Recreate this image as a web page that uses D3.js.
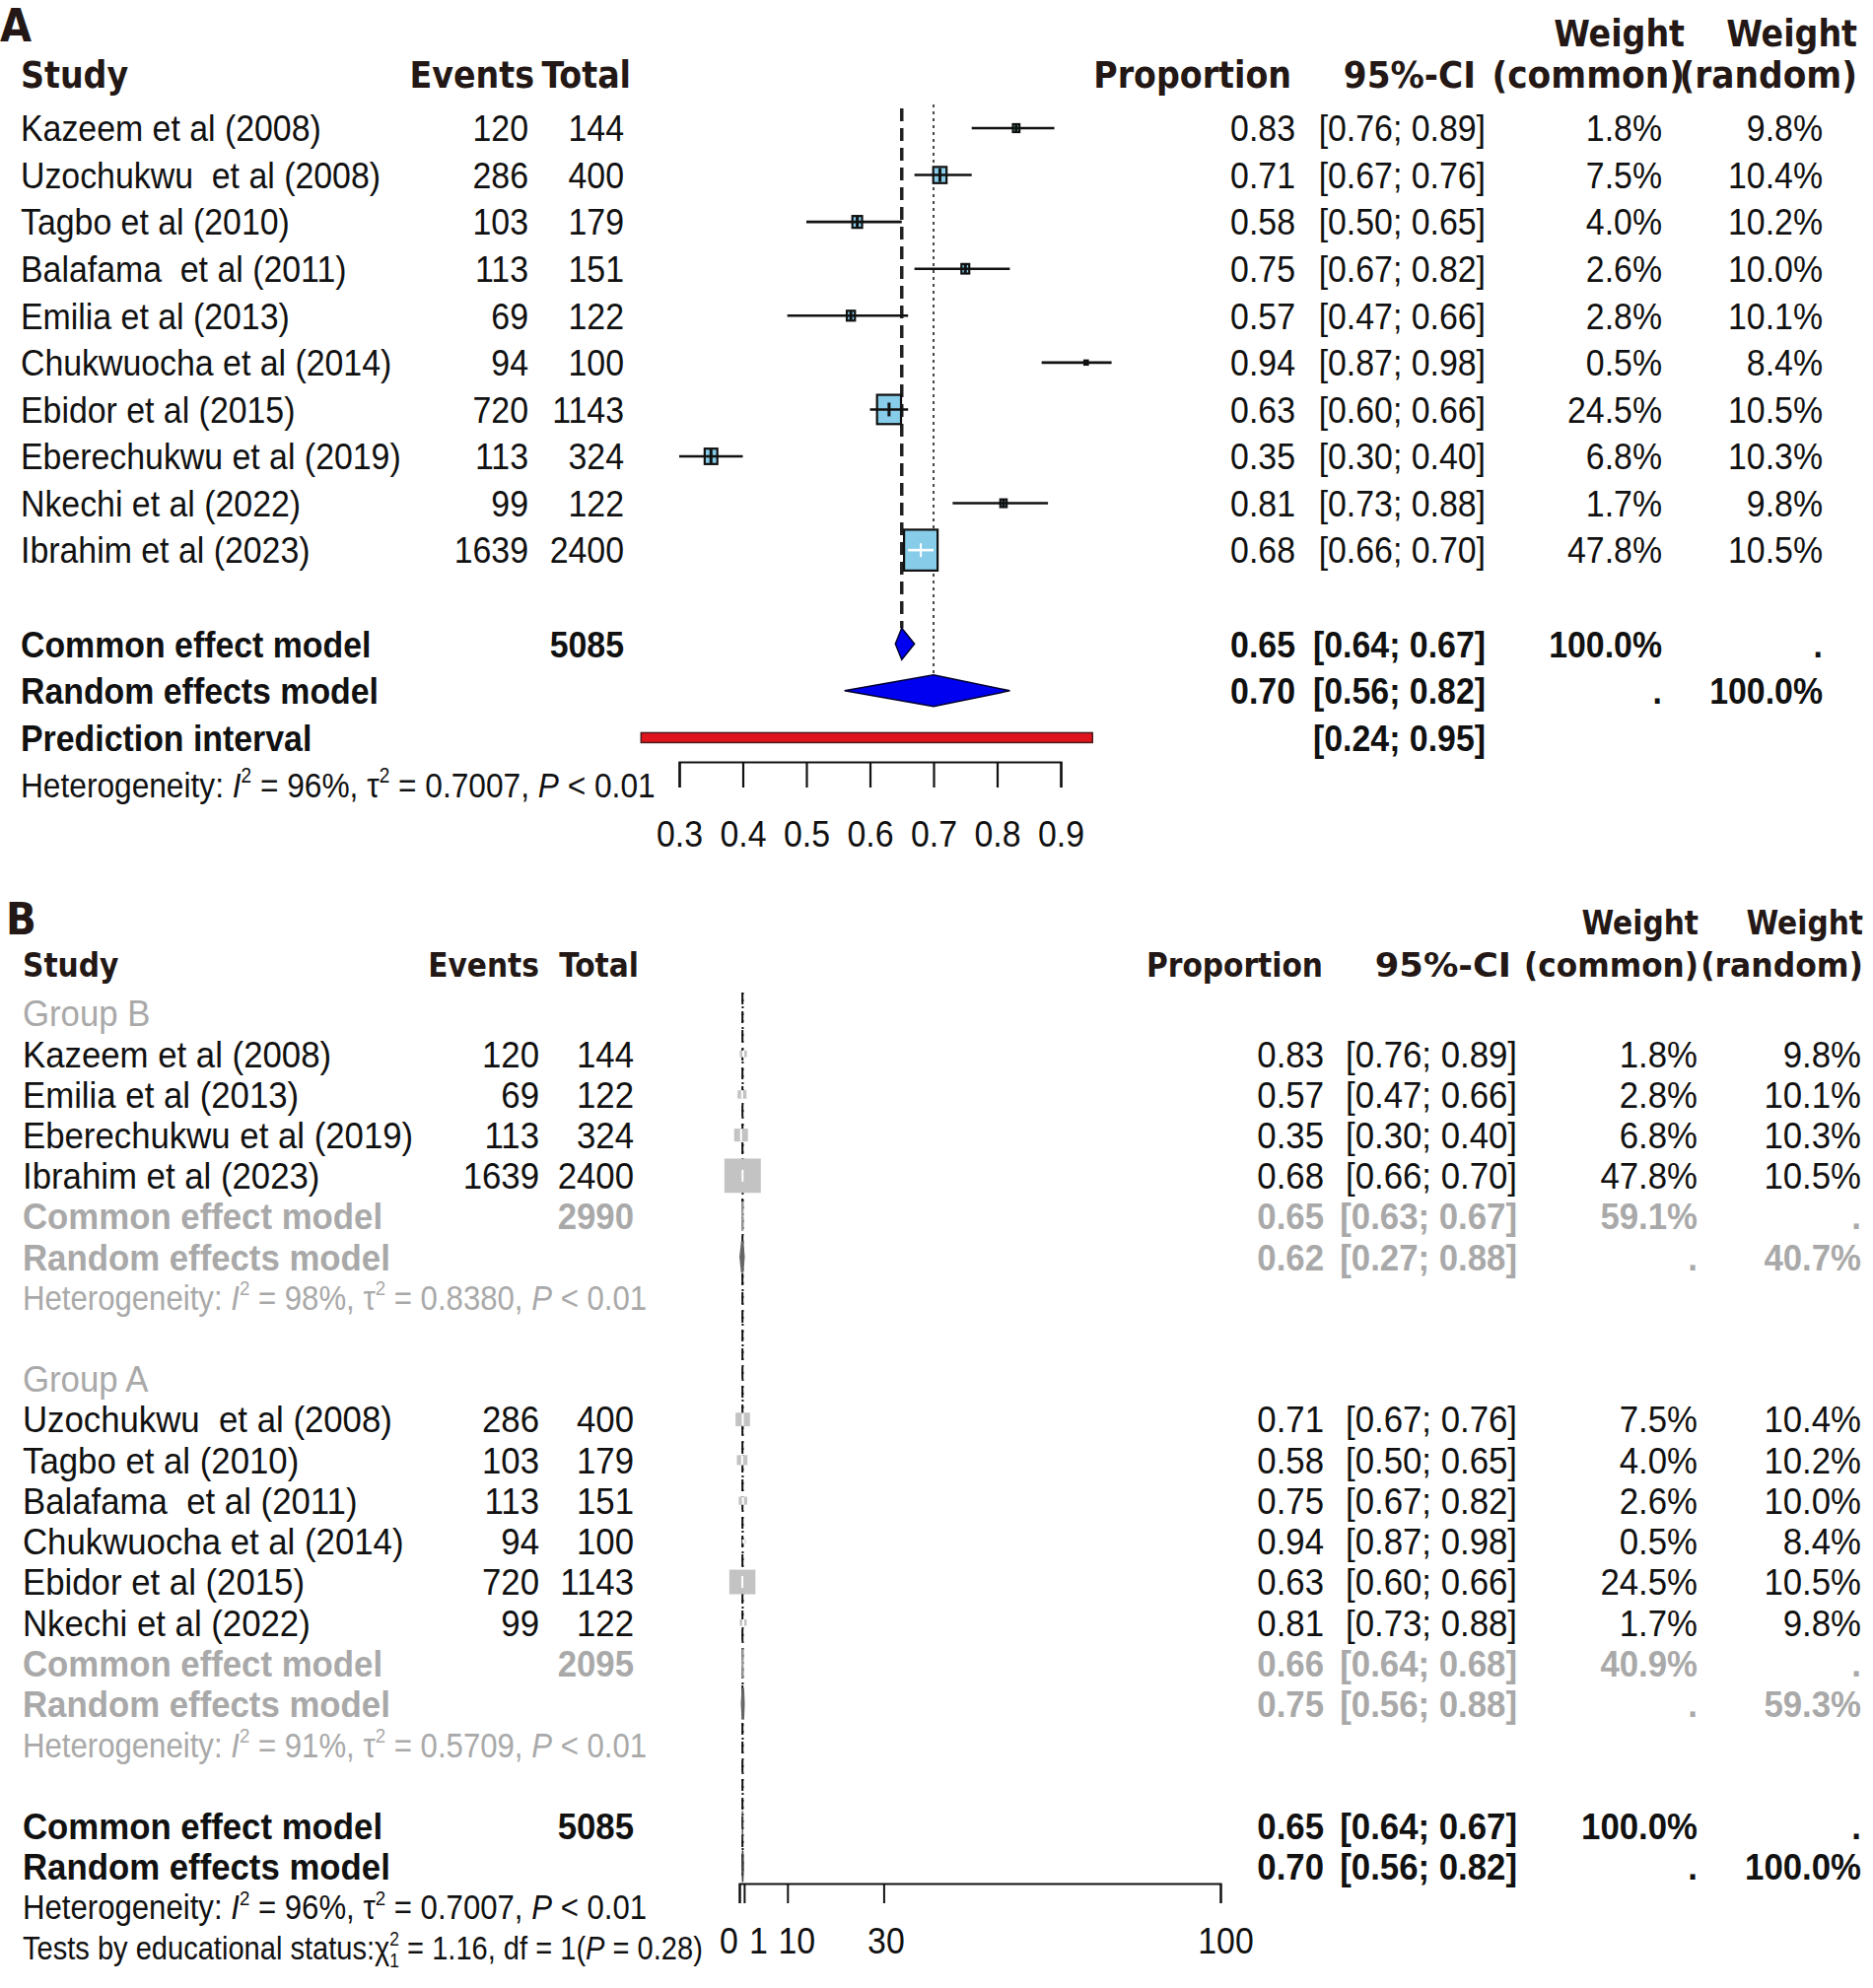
<!DOCTYPE html>
<html>
<head>
<meta charset="utf-8">
<script src="https://cdn.jsdelivr.net/npm/d3@7"></script>
<style>
  html, body { margin: 0; padding: 0; background: #fff; }
  svg { display: block; }
  text { white-space: pre; }
</style>
</head>
<body>
<svg id="chart" width="1900" height="2017"></svg>
<script>
// ---------------- DATA ----------------
const studies = ["Kazeem et al (2008)", "Uzochukwu  et al (2008)", "Tagbo et al (2010)", "Balafama  et al (2011)",
  "Emilia et al (2013)", "Chukwuocha et al (2014)", "Ebidor et al (2015)", "Eberechukwu et al (2019)",
  "Nkechi et al (2022)", "Ibrahim et al (2023)"];
const events = [120, 286, 103, 113, 69, 94, 720, 113, 99, 1639];
const totals = [144, 400, 179, 151, 122, 100, 1143, 324, 122, 2400];
const proportion = [0.83, 0.71, 0.58, 0.75, 0.57, 0.94, 0.63, 0.35, 0.81, 0.68];
const ciLower = [0.76, 0.67, 0.50, 0.67, 0.47, 0.87, 0.60, 0.30, 0.73, 0.66];
const ciUpper = [0.89, 0.76, 0.65, 0.82, 0.66, 0.98, 0.66, 0.40, 0.88, 0.70];
const weightCommon = [1.8, 7.5, 4.0, 2.6, 2.8, 0.5, 24.5, 6.8, 1.7, 47.8];
const weightRandom = [9.8, 10.4, 10.2, 10.0, 10.1, 8.4, 10.5, 10.3, 9.8, 10.5];
const studyGroup = ["B", "A", "A", "A", "B", "A", "A", "B", "A", "B"];

const overallTotal = 5085;
const overallCommon = [0.65, 0.64, 0.67];
const overallRandom = [0.70, 0.56, 0.82];
const predictionInterval = [0.24, 0.95];
const overallHet = ["96%", "0.7007", "< 0.01"];

const groupKeys = ["B", "A"];
const groupLabels = ["Group B", "Group A"];
const groupTotals = [2990, 2095];
const groupCommon = [[0.65, 0.63, 0.67], [0.66, 0.64, 0.68]];
const groupRandom = [[0.62, 0.27, 0.88], [0.75, 0.56, 0.88]];
const groupWeightCommon = [59.1, 40.9];
const groupWeightRandom = [40.7, 59.3];
const groupHet = [["98%", "0.8380", "< 0.01"], ["91%", "0.5709", "< 0.01"]];
const subgroupTest = ["1.16", "1", "0.28"]; // chi2, df, p

const ticksA = [0.3, 0.4, 0.5, 0.6, 0.7, 0.8, 0.9];
const ticksB = [0, 1, 10, 30, 100];
const tickLabelsB = ["0", "1", "10", "30", "100"];

// ---------------- HELPERS ----------------
const svg = d3.select("#chart");
const fSans = "'Liberation Sans', Arial, Helvetica, sans-serif";
const fHead = "'DejaVu Sans Condensed', 'DejaVu Sans', sans-serif";
const HEAD = "#231815", INK = "#111", GREY = "#a9a9a9";

function T(g, x, yc, str, o = {}) {
  const size = o.size || 37, sx = o.sx || 0.915;
  const t = g.append("text")
    .attr("transform", `translate(${x},${yc + size * 0.36}) scale(${sx},1)`)
    .attr("text-anchor", o.anchor || "start")
    .attr("font-family", o.family || fSans)
    .attr("font-size", size)
    .attr("font-weight", o.weight || "normal")
    .attr("fill", o.fill || INK)
    .text(str);
  if (o.family === fHead) t.style("font-stretch", "condensed");
  return t;
}
function H(g, x, yc, str, o = {}) {
  return T(g, x, yc, str, Object.assign({family: fHead, weight: "bold", fill: HEAD, sx: 1}, o));
}
// rich text: parts = [[text, style]] style: i | sup | sub | subAfterSup
function R(g, x, yc, parts, o = {}) {
  const size = o.size || 36, sx = o.sx || 0.88;
  const t = g.append("text")
    .attr("transform", `translate(${x},${yc + size * 0.36}) scale(${sx},1)`)
    .attr("font-family", fSans).attr("font-size", size)
    .attr("fill", o.fill || INK);
  let shift = 0;
  parts.forEach(([s, st]) => {
    let target = 0, fs = size, dx = 0;
    if (st === "sup") { target = -size * 0.42; fs = size * 0.6; }
    if (st === "sub") { target = size * 0.22; fs = size * 0.6; }
    if (st === "subAfterSup") { target = size * 0.22; fs = size * 0.6; dx = -size * 0.6 * 0.556; }
    const ts = t.append("tspan").attr("dy", target - shift).attr("font-size", fs).text(s);
    if (dx) ts.attr("dx", dx);
    if (st === "i") ts.attr("font-style", "italic");
    shift = target;
  });
  return t;
}
function hetParts(h) {
  return [["Heterogeneity: "], ["I", "i"], ["2", "sup"], [" = " + h[0] + ", "], ["\u03c4"], ["2", "sup"],
    [" = " + h[1] + ", "], ["P", "i"], [" " + h[2]]];
}
const f2 = d => d.toFixed(2);
const ciStr = (l, u) => `[${f2(l)}; ${f2(u)}]`;
const pct = d => d.toFixed(1) + "%";

// ================= PANEL A =================
const gA = svg.append("g");
const xA = d3.scaleLinear().domain([0.3, 0.9]).range([689, 1076]);
const yA = d3.scaleLinear().domain([0, 14]).range([130, 796]);
const colA = {study: 21, events: 536, total: 633, prop: 1314, ci: 1507, wc: 1686, wr: 1849};

H(gA, 0, 25, "A", {size: 46});
H(gA, 1709, 34, "Weight", {anchor: "end"});
H(gA, 1884, 34, "Weight", {anchor: "end"});
H(gA, colA.study, 76, "Study");
H(gA, 542, 76, "Events", {anchor: "end"});
H(gA, 640, 76, "Total", {anchor: "end"});
H(gA, 1310, 76, "Proportion", {anchor: "end"});
H(gA, 1497, 76, "95%-CI", {anchor: "end", sx: 1.03});
H(gA, 1709, 76, "(common)", {anchor: "end", sx: 1.035});
H(gA, 1884, 76, "(random)", {anchor: "end", sx: 1.035});

// reference lines
gA.append("line").attr("x1", xA(overallCommon[0])).attr("x2", xA(overallCommon[0]))
  .attr("y1", yA(0) - 20).attr("y2", yA(11) - 16)
  .attr("stroke", "#222").attr("stroke-width", 3.5).attr("stroke-dasharray", "13,7");
gA.append("line").attr("x1", xA(overallRandom[0])).attr("x2", xA(overallRandom[0]))
  .attr("y1", yA(0) - 24).attr("y2", yA(12) - 16)
  .attr("stroke", "#333").attr("stroke-width", 1.8).attr("stroke-dasharray", "3,4");

const bwA = d3.scaleSqrt().domain([0, 47.8]).range([0, 34]);
studies.forEach((s, i) => {
  const y = yA(i);
  T(gA, colA.study, y, s);
  T(gA, colA.events, y, String(events[i]), {anchor: "end"});
  T(gA, colA.total, y, String(totals[i]), {anchor: "end"});
  T(gA, colA.prop, y, f2(proportion[i]), {anchor: "end"});
  T(gA, colA.ci, y, ciStr(ciLower[i], ciUpper[i]), {anchor: "end"});
  T(gA, colA.wc, y, pct(weightCommon[i]), {anchor: "end"});
  T(gA, colA.wr, y, pct(weightRandom[i]), {anchor: "end"});

  const w = bwA(weightCommon[i]), h = w * 1.22, cx = xA(proportion[i]);
  const inside = xA(ciLower[i]) >= cx - w / 2 && xA(ciUpper[i]) <= cx + w / 2;
  gA.append("rect").attr("x", cx - w / 2).attr("y", y - h / 2).attr("width", w).attr("height", h)
    .attr("fill", "#87cdea").attr("stroke", "#111").attr("stroke-width", 2.2);
  gA.append("line").attr("x1", xA(ciLower[i])).attr("x2", xA(ciUpper[i])).attr("y1", y).attr("y2", y)
    .attr("stroke", inside ? "#fff" : "#111").attr("stroke-width", 2.6);
  const th = Math.min(h, 14);
  gA.append("line").attr("x1", cx).attr("x2", cx).attr("y1", y - th / 2).attr("y2", y + th / 2)
    .attr("stroke", inside ? "#fff" : "#111").attr("stroke-width", inside ? 2 : 3);
});

function diamond(g, x, y, est, lo, hi, hh, fill, stroke, sw) {
  g.append("polygon")
    .attr("points", [[x(lo), y], [x(est), y - hh], [x(hi), y], [x(est), y + hh]].map(p => p.join(",")).join(" "))
    .attr("fill", fill).attr("stroke", stroke).attr("stroke-width", sw);
}
// summary rows A
{
  let y = yA(11);
  T(gA, colA.study, y, "Common effect model", {weight: "bold"});
  T(gA, colA.total, y, String(overallTotal), {anchor: "end", weight: "bold"});
  T(gA, colA.prop, y, f2(overallCommon[0]), {anchor: "end", weight: "bold"});
  T(gA, colA.ci, y, ciStr(overallCommon[1], overallCommon[2]), {anchor: "end", weight: "bold"});
  T(gA, colA.wc, y, "100.0%", {anchor: "end", weight: "bold"});
  T(gA, colA.wr, y, ".", {anchor: "end", weight: "bold"});
  diamond(gA, xA, y, ...overallCommon, 16, "#0000f0", "#000030", 1.5);

  y = yA(12);
  T(gA, colA.study, y, "Random effects model", {weight: "bold"});
  T(gA, colA.prop, y, f2(overallRandom[0]), {anchor: "end", weight: "bold"});
  T(gA, colA.ci, y, ciStr(overallRandom[1], overallRandom[2]), {anchor: "end", weight: "bold"});
  T(gA, colA.wc, y, ".", {anchor: "end", weight: "bold"});
  T(gA, colA.wr, y, "100.0%", {anchor: "end", weight: "bold"});
  diamond(gA, xA, y, ...overallRandom, 16, "#0000f0", "#000030", 1.5);

  y = yA(13);
  T(gA, colA.study, y, "Prediction interval", {weight: "bold"});
  T(gA, colA.ci, y, ciStr(predictionInterval[0], predictionInterval[1]), {anchor: "end", weight: "bold"});
  gA.append("rect").attr("x", xA(predictionInterval[0])).attr("y", y - 5)
    .attr("width", xA(predictionInterval[1]) - xA(predictionInterval[0])).attr("height", 10)
    .attr("fill", "#e0141c").attr("stroke", "#4a1a1a").attr("stroke-width", 1.5);

  R(gA, colA.study, yA(14), hetParts(overallHet), {size: 36, sx: 0.88});
}
// axis A
{
  const ay = 773;
  const ax = gA.append("g").attr("transform", `translate(0,${ay})`)
    .call(d3.axisBottom(xA).tickValues(ticksA).tickSize(26).tickSizeOuter(26).tickFormat(d3.format(".1f")));
  ax.selectAll("path, line").attr("stroke", "#111").attr("stroke-width", 2.2);
  ax.selectAll("text").attr("font-family", fSans).attr("font-size", 37).attr("fill", INK)
    .attr("dy", null).attr("y", 73 + 13).attr("transform", "scale(0.915,1)");
}

// ================= PANEL B =================
const gB = svg.append("g");
const xB = d3.scaleLinear().domain([0, 100]).range([750, 1238]);
const yB = d3.scaleLinear().domain([0, 23]).range([1028, 1976]);
const colB = {study: 23, events: 547, total: 643, prop: 1343, ci: 1539, wc: 1722, wr: 1888};
const sxB = 0.94;

H(gB, 6, 932, "B", {size: 45});
H(gB, 1723, 936, "Weight", {anchor: "end", size: 33});
H(gB, 1890, 936, "Weight", {anchor: "end", size: 33});
H(gB, colB.study, 979, "Study", {size: 33});
H(gB, 547, 979, "Events", {anchor: "end", size: 33});
H(gB, 648, 979, "Total", {anchor: "end", size: 33});
H(gB, 1342, 979, "Proportion", {anchor: "end", size: 33});
H(gB, 1533, 979, "95%-CI", {anchor: "end", size: 33, sx: 1.19});
H(gB, 1723, 979, "(common)", {anchor: "end", size: 33, sx: 1.05});
H(gB, 1890, 979, "(random)", {anchor: "end", size: 33, sx: 1.06});

// reference lines (common dashed + random dotted overlap -> dash-dot look)
const axisYB = 1911;
gB.append("line").attr("x1", xB(overallCommon[0])).attr("x2", xB(overallCommon[0]))
  .attr("y1", yB(0) - 21).attr("y2", axisYB - 8)
  .attr("stroke", "#111").attr("stroke-width", 2).attr("stroke-dasharray", "12,7");
gB.append("line").attr("x1", xB(overallRandom[0])).attr("x2", xB(overallRandom[0]))
  .attr("y1", yB(0) - 21).attr("y2", axisYB - 8)
  .attr("stroke", "#111").attr("stroke-width", 2).attr("stroke-dasharray", "2,5").attr("stroke-dashoffset", -14);

const bwB = d3.scaleSqrt().domain([0, 47.8]).range([0, 37]);
let row = 0;
groupKeys.forEach((gk, gi) => {
  T(gB, colB.study, yB(row), groupLabels[gi], {fill: GREY, sx: sxB});
  row++;
  studies.forEach((s, i) => {
    if (studyGroup[i] !== gk) return;
    const y = yB(row);
    T(gB, colB.study, y, s, {sx: sxB});
    T(gB, colB.events, y, String(events[i]), {anchor: "end", sx: sxB});
    T(gB, colB.total, y, String(totals[i]), {anchor: "end", sx: sxB});
    T(gB, colB.prop, y, f2(proportion[i]), {anchor: "end", sx: sxB});
    T(gB, colB.ci, y, ciStr(ciLower[i], ciUpper[i]), {anchor: "end", sx: sxB});
    T(gB, colB.wc, y, pct(weightCommon[i]), {anchor: "end", sx: sxB});
    T(gB, colB.wr, y, pct(weightRandom[i]), {anchor: "end", sx: sxB});
    const w = bwB(weightCommon[i]), h = w * 0.94, cx = xB(proportion[i]);
    gB.append("rect").attr("x", cx - w / 2).attr("y", y - h / 2).attr("width", w).attr("height", h)
      .attr("fill", "#c3c3c3");
    gB.append("line").attr("x1", xB(ciLower[i])).attr("x2", xB(ciUpper[i])).attr("y1", y).attr("y2", y)
      .attr("stroke", "#fff").attr("stroke-width", 2);
    const th = Math.min(h, 12);
    gB.append("line").attr("x1", cx).attr("x2", cx).attr("y1", y - th / 2).attr("y2", y + th / 2)
      .attr("stroke", "#fff").attr("stroke-width", 2);
    row++;
  });
  let y = yB(row);
  T(gB, colB.study, y, "Common effect model", {weight: "bold", fill: GREY, sx: sxB});
  T(gB, colB.total, y, String(groupTotals[gi]), {anchor: "end", weight: "bold", fill: GREY, sx: sxB});
  T(gB, colB.prop, y, f2(groupCommon[gi][0]), {anchor: "end", weight: "bold", fill: GREY, sx: sxB});
  T(gB, colB.ci, y, ciStr(groupCommon[gi][1], groupCommon[gi][2]), {anchor: "end", weight: "bold", fill: GREY, sx: sxB});
  T(gB, colB.wc, y, pct(groupWeightCommon[gi]), {anchor: "end", weight: "bold", fill: GREY, sx: sxB});
  T(gB, colB.wr, y, ".", {anchor: "end", weight: "bold", fill: GREY, sx: sxB});
  diamond(gB, xB, y, ...groupCommon[gi], 15, "#999", "#999", 2);
  row++;
  y = yB(row);
  T(gB, colB.study, y, "Random effects model", {weight: "bold", fill: GREY, sx: sxB});
  T(gB, colB.prop, y, f2(groupRandom[gi][0]), {anchor: "end", weight: "bold", fill: GREY, sx: sxB});
  T(gB, colB.ci, y, ciStr(groupRandom[gi][1], groupRandom[gi][2]), {anchor: "end", weight: "bold", fill: GREY, sx: sxB});
  T(gB, colB.wc, y, ".", {anchor: "end", weight: "bold", fill: GREY, sx: sxB});
  T(gB, colB.wr, y, pct(groupWeightRandom[gi]), {anchor: "end", weight: "bold", fill: GREY, sx: sxB});
  diamond(gB, xB, y, ...groupRandom[gi], 16, "#666", "#666", 2.5);
  row++;
  R(gB, colB.study, yB(row), hetParts(groupHet[gi]), {size: 35, sx: 0.89, fill: GREY});
  row += 2;
});
{
  let y = yB(row);
  T(gB, colB.study, y, "Common effect model", {weight: "bold", sx: sxB});
  T(gB, colB.total, y, String(overallTotal), {anchor: "end", weight: "bold", sx: sxB});
  T(gB, colB.prop, y, f2(overallCommon[0]), {anchor: "end", weight: "bold", sx: sxB});
  T(gB, colB.ci, y, ciStr(overallCommon[1], overallCommon[2]), {anchor: "end", weight: "bold", sx: sxB});
  T(gB, colB.wc, y, "100.0%", {anchor: "end", weight: "bold", sx: sxB});
  T(gB, colB.wr, y, ".", {anchor: "end", weight: "bold", sx: sxB});
  diamond(gB, xB, y, ...overallCommon, 15, "#444", "#444", 1.2);
  row++;
  y = yB(row);
  T(gB, colB.study, y, "Random effects model", {weight: "bold", sx: sxB});
  T(gB, colB.prop, y, f2(overallRandom[0]), {anchor: "end", weight: "bold", sx: sxB});
  T(gB, colB.ci, y, ciStr(overallRandom[1], overallRandom[2]), {anchor: "end", weight: "bold", sx: sxB});
  T(gB, colB.wc, y, ".", {anchor: "end", weight: "bold", sx: sxB});
  T(gB, colB.wr, y, "100.0%", {anchor: "end", weight: "bold", sx: sxB});
  diamond(gB, xB, y, ...overallRandom, 16, "#444", "#444", 1.5);
  row++;
  R(gB, colB.study, yB(row), hetParts(overallHet), {size: 35, sx: 0.89});
  row++;
  R(gB, colB.study, yB(row), [["Tests by educational status:"], ["\u03c7"], ["2", "sup"], ["1", "subAfterSup"],
    [" = " + subgroupTest[0] + ", df = " + subgroupTest[1]], ["("], ["P", "i"], [" = " + subgroupTest[2] + ")"]],
    {size: 34, sx: 0.855});
}
// axis B
{
  const nudge = [-11, 14, 9, 2, 5];
  const ax = gB.append("g").attr("transform", `translate(0,${axisYB})`)
    .call(d3.axisBottom(xB).tickValues(ticksB).tickSize(20).tickSizeOuter(20)
      .tickFormat((d, i) => tickLabelsB[i]));
  ax.selectAll("path, line").attr("stroke", "#111").attr("stroke-width", 2);
  ax.selectAll("text").attr("font-family", fSans).attr("font-size", 37).attr("fill", INK)
    .attr("dy", null).attr("y", 58 + 13)
    .attr("transform", (d, i) => `translate(${nudge[i]},0) scale(0.915,1)`);
}
</script>
</body>
</html>
